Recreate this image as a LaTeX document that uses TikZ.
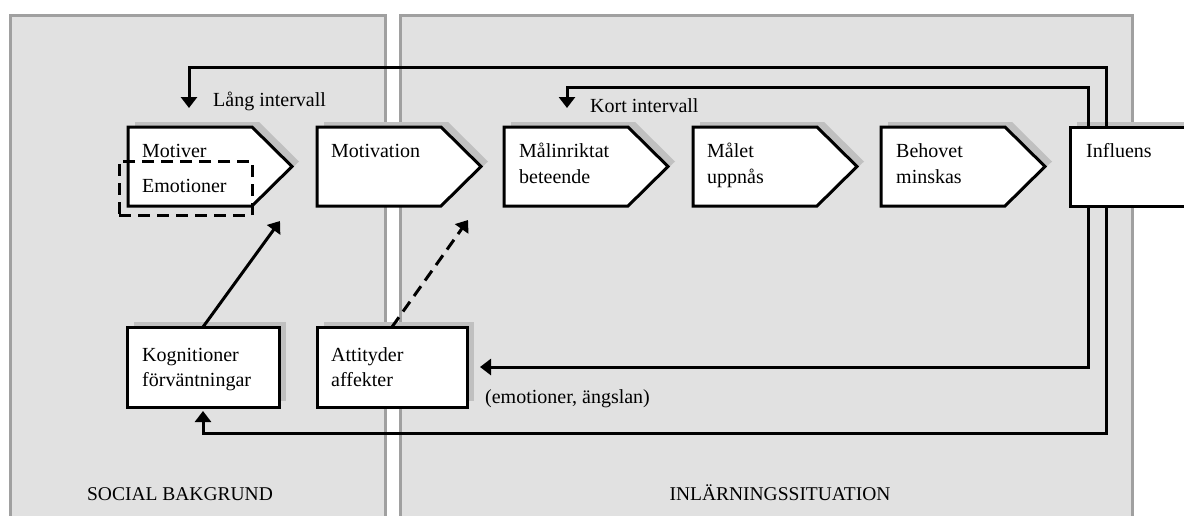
\documentclass[tikz,border=0pt]{standalone}
\usepackage{fontspec}
\setmainfont{Liberation Serif}
\usetikzlibrary{arrows.meta,calc}
\definecolor{panelfill}{RGB}{225,225,225}
\definecolor{panelline}{RGB}{160,160,160}
\definecolor{shadowc}{RGB}{192,192,192}
\tikzset{
 panel/.style={fill=panelfill, draw=panelline, line width=3pt},
 boxline/.style={draw=black, fill=white, line width=3pt},
 anchorbox/.style={minimum width=164pt, minimum height=79pt, inner sep=0pt, outer sep=0pt, anchor=north west},
 rectbox/.style={draw=black, fill=white, line width=3pt, minimum width=152pt, minimum height=80pt, inner sep=0pt, outer sep=0pt, anchor=north west},
 dashbox/.style={draw=black, line width=3pt, dash pattern=on 12pt off 7pt, minimum width=133pt, minimum height=54pt, inner sep=0pt, outer sep=0pt, anchor=north west},
 txt/.style={inner sep=0pt, anchor=base west, font=\fontsize{20}{24}\selectfont},
 ctxt/.style={inner sep=0pt, anchor=base, font=\fontsize{19.5}{24}\selectfont},
 conn/.style={line width=3pt, -{Triangle[length=11pt,width=16pt]}},
 dconn/.style={conn, dash pattern=on 12pt off 7pt},
}
\newcommand{\mkchev}[2]{%
  \fill[shadowc] ({#2+7},122) -- ({#2+131},122) -- ({#2+171},161.5) -- ({#2+131},201) -- ({#2+7},201) -- cycle;
  \node[anchorbox] (#1) at (#2,127) {};
  \draw[boxline] (#1.north west) -- ([xshift=-40pt]#1.north east) -- (#1.east) -- ([xshift=-40pt]#1.south east) -- (#1.south west) -- cycle;
}
\begin{document}
\begin{tikzpicture}[x=1pt,y=-1pt]
\useasboundingbox (0,0) rectangle (1184,515);
% panels
\draw[panel] (10,15) rectangle (385,540);
\draw[panel] (400,15) rectangle (1132,540);
% chevrons
\mkchev{mot}{128}
\mkchev{motiv}{317}
\mkchev{malin}{504}
\mkchev{malet}{693}
\mkchev{behov}{881}
% rectangles
\fill[shadowc] (1077,122) rectangle (1260,201);
\node[rectbox, minimum width=190pt, minimum height=79pt] (infl) at (1070,127) {};
\fill[shadowc] (134,322) rectangle (286,401);
\node[rectbox] (kog) at (127,327) {};
\fill[shadowc] (324,322) rectangle (474,401);
\node[rectbox, minimum width=150pt] (att) at (317,327) {};
\node[dashbox] (emo) at (119,161) {};
% texts
\node[txt] (tmot) at (142,157) {Motiver};
\node[txt] (temo) at (142,192) {Emotioner};
\node[txt] (tmotiv) at (331,157) {Motivation};
\node[txt] (tmalin1) at (519,157) {Målinriktat};
\node[txt] (tmalin2) at (519,183) {beteende};
\node[txt] (tmalet1) at (707,157) {Målet};
\node[txt] (tmalet2) at (707,183) {uppnås};
\node[txt] (tbehov1) at (896,157) {Behovet};
\node[txt] (tbehov2) at (896,183) {minskas};
\node[txt] (tinfl) at (1086,157) {Influens};
\node[txt] (tkog1) at (142,361) {Kognitioner};
\node[txt] (tkog2) at (142,386) {förväntningar};
\node[txt] (tatt1) at (331,361) {Attityder};
\node[txt] (tatt2) at (331,386) {affekter};
\node[txt] (tlang) at (213,106) {Lång intervall};
\node[txt] (tkort) at (590,112) {Kort intervall};
\node[txt] (temang) at (485,403) {(emotioner, ängslan)};
\node[ctxt] (tsoc) at (180,500) {SOCIAL BAKGRUND};
\node[ctxt] (tinl) at (780,500) {INLÄRNINGSSITUATION};
% connector ends
\coordinate (langend) at (189,108);
\coordinate (kortend) at (567,108);
\coordinate (kogend) at (280,221);
\coordinate (attend) at (468,220);
% connectors
\draw[conn] ([xshift=36pt]infl.north west) -- ++(0,-60) -| (langend);
\draw[conn] ([xshift=18pt]infl.north west) -- ++(0,-40) -| (kortend);
\draw[conn] ([xshift=18pt]infl.south west) |- ([xshift=13pt]att.east);
\draw[conn] ([xshift=36pt]infl.south west) -- ++(0,227) -| ([yshift=-4pt]kog.south);
\draw[conn] (kog.north) -- (kogend);
\draw[dconn] (att.north) -- (attend);
\end{tikzpicture}
\end{document}
